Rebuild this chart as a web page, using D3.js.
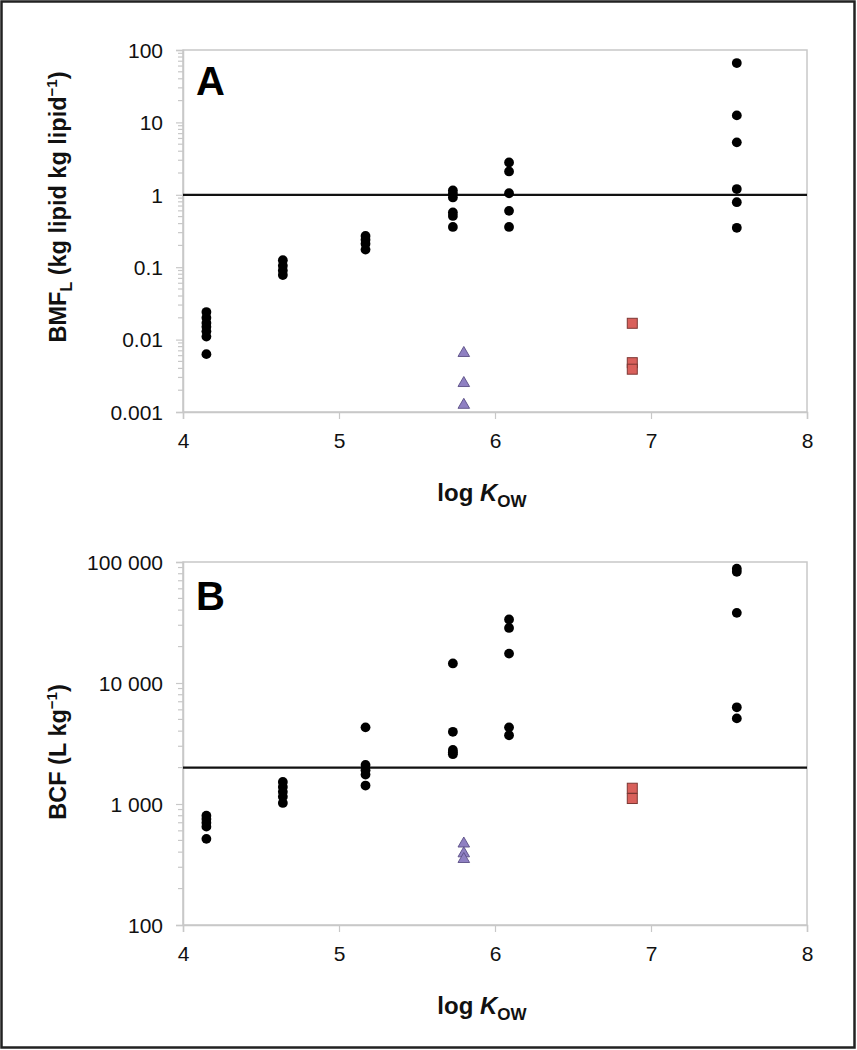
<!DOCTYPE html>
<html><head><meta charset="utf-8">
<script src="https://cdn.jsdelivr.net/npm/d3@7"></script>
<style>body{margin:0;background:#fff;} svg{display:block;font-family:"Liberation Sans",Arial,sans-serif;}</style>
</head><body>
<svg id="chart" width="857" height="1050"></svg>
<script>
// ---- data ----
const kowGroups = [4.15, 4.64, 5.17, 5.73, 6.09, 7.55];
const bmfCircles = [
  [0.024, 0.020, 0.017, 0.015, 0.013, 0.011, 0.0063],
  [0.125, 0.105, 0.09, 0.078],
  [0.27, 0.24, 0.21, 0.175],
  [1.15, 1.03, 0.92, 0.57, 0.51, 0.36],
  [2.8, 2.1, 1.05, 0.6, 0.36],
  [66, 12.5, 5.3, 1.2, 0.79, 0.35]
];
const bcfCircles = [
  [800, 750, 700, 650, 515],
  [1520, 1380, 1260, 1150, 1020],
  [4300, 2100, 1900, 1750, 1420],
  [14500, 3950, 2800, 2680, 2580],
  [33500, 28500, 17500, 4300, 3700],
  [88000, 83000, 38000, 6300, 5100]
];
const triKow = 5.80;
const bmfTriangles = [0.0065, 0.0025, 0.00125];
const bcfTriangles = [470, 390, 350];
const sqKow = 6.88;
const bmfSquares = [0.0168, 0.0048, 0.0039];
const bcfSquares = [1350, 1110];
const xTicks = [4, 5, 6, 7, 8];
const bmfTicks = [0.001, 0.01, 0.1, 1, 10, 100];
const bmfTickLabels = ["0.001", "0.01", "0.1", "1", "10", "100"];
const bcfTicks = [100, 1000, 10000, 100000];
const bcfTickLabels = ["100", "1 000", "10 000", "100 000"];
const bmfRef = 1;
const bcfRef = 2000;

const svg = d3.select("#chart");
svg.append("rect").attr("x",1.5).attr("y",1.5).attr("width",853).attr("height",1046)
  .attr("fill","#fff").attr("stroke","#222").attr("stroke-width",2.5);

const gray = "#c8c8c8";
const left = 183, right = 807;

function panel(cfg){
  const x = d3.scaleLinear().domain([4,8]).range([left,right]);
  const y = d3.scaleLog().domain(cfg.domain).range([cfg.bottom, cfg.top]);
  const g = svg.append("g");
  g.append("rect").attr("x",left).attr("y",cfg.top).attr("width",right-left).attr("height",cfg.bottom-cfg.top)
    .attr("fill","none").attr("stroke",gray).attr("stroke-width",1.5);
  const minors = [];
  const [lo,hi] = cfg.domain;
  for(let d=lo; d<hi; d*=10){ for(let k=2;k<=9;k++) minors.push(d*k); }
  g.selectAll(".minor").data(minors).join("line")
    .attr("x1",left-5).attr("x2",left).attr("y1",d=>y(d)).attr("y2",d=>y(d))
    .attr("stroke",gray).attr("stroke-width",1.2);
  const ya = d3.axisLeft(y).tickValues(cfg.ticks).tickFormat((d,i)=>cfg.labels[i]).tickSize(7).tickPadding(13);
  const yg = g.append("g").attr("transform",`translate(${left},0)`).call(ya);
  yg.select(".domain").attr("stroke",gray).attr("stroke-width",1.5);
  yg.selectAll(".tick line").attr("stroke",gray).attr("stroke-width",1.2);
  yg.selectAll("text").attr("font-size",21).attr("fill","#111").attr("font-family","Liberation Sans, Arial, sans-serif").attr("dy","0.35em");
  const xa = d3.axisBottom(x).tickValues(xTicks).tickFormat(d3.format("d")).tickSize(7).tickPadding(14);
  const xg = g.append("g").attr("transform",`translate(0,${cfg.bottom})`).call(xa);
  xg.select(".domain").attr("stroke",gray).attr("stroke-width",1.5);
  xg.selectAll(".tick line").attr("stroke",gray).attr("stroke-width",1.2);
  xg.selectAll("text").attr("font-size",21).attr("fill","#111").attr("font-family","Liberation Sans, Arial, sans-serif");
  g.append("line").attr("x1",left).attr("x2",right).attr("y1",y(cfg.ref)).attr("y2",y(cfg.ref))
    .attr("stroke","#111").attr("stroke-width",2.2);
  const pts = [];
  kowGroups.forEach((k,i)=>cfg.circles[i].forEach(v=>pts.push([k,v])));
  g.selectAll(".dot").data(pts).join("circle")
    .attr("cx",d=>x(d[0])).attr("cy",d=>y(d[1])).attr("r",4.9).attr("fill","#000");
  const tri = d3.symbol().type(d3.symbolTriangle).size(58);
  g.selectAll(".tri").data(cfg.triangles).join("path")
    .attr("d",tri).attr("transform",d=>`translate(${x(triKow)},${y(d)})`)
    .attr("fill","#8f80c2").attr("stroke","#5b4f86").attr("stroke-width",0.9);
  g.selectAll(".sq").data(cfg.squares).join("rect")
    .attr("x",x(sqKow)-5).attr("y",d=>y(d)-5).attr("width",10).attr("height",10)
    .attr("fill","#d9605b").attr("stroke","#7d3733").attr("stroke-width",1);
  g.append("text").attr("x",196).attr("y",cfg.letterY).attr("font-size",40).attr("font-weight","bold")
    .attr("fill","#000").text(cfg.letter);
  const xt = g.append("text").attr("x",482).attr("y",cfg.bottom+89).attr("text-anchor","middle")
    .attr("font-size",24).attr("font-weight","bold").attr("fill","#111");
  xt.append("tspan").text("log ");
  xt.append("tspan").attr("font-style","italic").text("K");
  xt.append("tspan").attr("font-size",17).attr("dy",6).text("OW");
  const yt = g.append("text").attr("transform",`translate(66,${cfg.ytY}) rotate(-90)`).attr("text-anchor","middle")
    .attr("font-size",23.5).attr("font-weight","bold").attr("fill","#111");
  cfg.ytitle(yt);
}

panel({
  top:50, bottom:412, domain:[0.001,100], ticks:bmfTicks, labels:bmfTickLabels, ref:bmfRef,
  circles:bmfCircles, triangles:bmfTriangles, squares:bmfSquares, letter:"A", letterY:95, ytY:207,
  ytitle: t=>{
    t.append("tspan").text("BMF");
    t.append("tspan").attr("font-size",16).attr("dy",6).text("L");
    t.append("tspan").attr("dy",-6).text(" (kg lipid kg lipid");
    t.append("tspan").attr("font-size",15).attr("dy",-9).text("−1");
    t.append("tspan").attr("dy",9).text(")");
  }
});
panel({
  top:562, bottom:925, domain:[100,100000], ticks:bcfTicks, labels:bcfTickLabels, ref:bcfRef,
  circles:bcfCircles, triangles:bcfTriangles, squares:bcfSquares, letter:"B", letterY:610, ytY:752,
  ytitle: t=>{
    t.append("tspan").text("BCF (L kg");
    t.append("tspan").attr("font-size",15).attr("dy",-9).text("−1");
    t.append("tspan").attr("dy",9).text(")");
  }
});
</script>
</body></html>
